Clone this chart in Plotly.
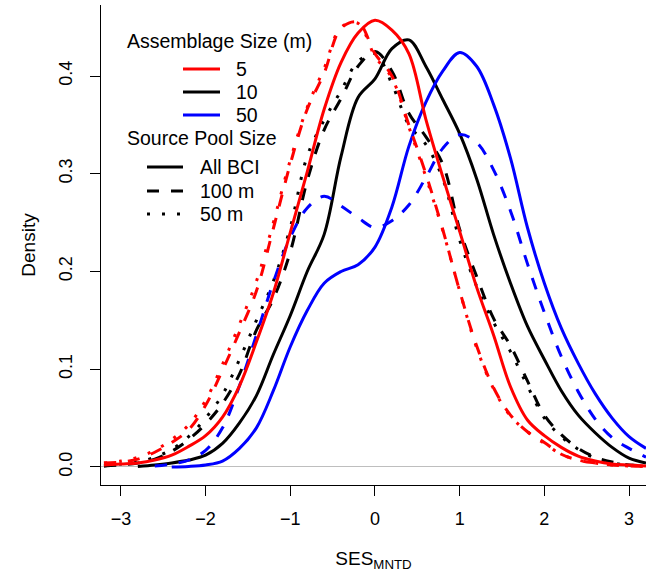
import plotly.graph_objects as go

# SES_MNTD grid
x_grid = [-3.2, -3.0, -2.8, -2.6, -2.4, -2.2, -2.0, -1.8, -1.6, -1.4, -1.2, -1.0, -0.8, -0.6, -0.4, -0.2,
          0.0, 0.2, 0.4, 0.6, 0.8, 1.0, 1.2, 1.4, 1.6, 1.8, 2.0, 2.2, 2.4, 2.6, 2.8, 3.0, 3.2]

# Assemblage 5 m
red_allbci = [0.002, 0.003, 0.004, 0.007, 0.012, 0.021, 0.032, 0.051, 0.083, 0.128, 0.178, 0.240, 0.302, 0.366,
              0.414, 0.444, 0.457, 0.447, 0.423, 0.356, 0.297, 0.241, 0.184, 0.135, 0.082, 0.048, 0.032, 0.020,
              0.011, 0.006, 0.003, 0.002, 0.001]
red_100m = [0.004, 0.005, 0.008, 0.015, 0.025, 0.038, 0.063, 0.099, 0.138, 0.180, 0.244, 0.310, 0.366, 0.403,
            0.449, 0.455, 0.423, 0.400, 0.350, 0.300, 0.243, 0.180, 0.124, 0.081, 0.053, 0.036, 0.025, 0.013,
            0.007, 0.004, 0.002, 0.001, 0.0005]
red_50m = [0.004, 0.006, 0.010, 0.017, 0.028, 0.043, 0.068, 0.105, 0.146, 0.190, 0.250, 0.314, 0.368, 0.408,
           0.450, 0.454, 0.420, 0.398, 0.348, 0.297, 0.242, 0.180, 0.122, 0.080, 0.052, 0.036, 0.024, 0.013,
           0.007, 0.004, 0.002, 0.001, 0.0005]

# Assemblage 10 m
black_allbci = [None, None, 0.0005, 0.002, 0.004, 0.007, 0.012, 0.024, 0.045, 0.073, 0.115, 0.155, 0.200, 0.238,
                0.318, 0.378, 0.397, 0.428, 0.437, 0.410, 0.376, 0.341, 0.295, 0.238, 0.188, 0.144, 0.110, 0.078,
                0.053, 0.035, 0.020, 0.009, 0.004]
black_100m = [0.001, 0.002, 0.004, 0.008, 0.016, 0.028, 0.044, 0.065, 0.095, 0.140, 0.172, 0.220, 0.293, 0.345,
              0.377, 0.410, 0.425, 0.405, 0.362, 0.338, 0.310, 0.243, 0.195, 0.152, 0.124, 0.088, 0.053, 0.033,
              0.019, 0.010, 0.005, 0.002, 0.001]
black_50m = [0.001, 0.003, 0.005, 0.010, 0.018, 0.031, 0.050, 0.074, 0.110, 0.150, 0.190, 0.245, 0.318, 0.355,
             0.385, 0.415, 0.423, 0.392, 0.350, 0.330, 0.295, 0.232, 0.185, 0.148, 0.118, 0.083, 0.050, 0.031,
             0.018, 0.009, 0.004, 0.002, 0.001]

# Assemblage 50 m
blue_allbci = [None, None, None, None, 0.0, 0.0005, 0.002, 0.006, 0.019, 0.040, 0.078, 0.123, 0.160, 0.188,
               0.200, 0.207, 0.225, 0.266, 0.328, 0.373, 0.405, 0.424, 0.410, 0.371, 0.316, 0.245, 0.188, 0.142,
               0.106, 0.075, 0.050, 0.031, 0.019]
blue_100m = [None, None, None, 0.001, 0.003, 0.007, 0.017, 0.040, 0.083, 0.135, 0.189, 0.235, 0.265, 0.277,
             0.267, 0.255, 0.245, 0.252, 0.268, 0.296, 0.326, 0.340, 0.332, 0.304, 0.262, 0.208, 0.158, 0.113,
             0.077, 0.049, 0.030, 0.019, 0.010]

legend_size_title = "Assemblage Size (m)"
size_names = ["5", "10", "50"]
size_colors = ["#FF0000", "#000000", "#0000FF"]
legend_pool_title = "Source Pool Size"
pool_names = ["All BCI", "100 m", "50 m"]
pool_dashes = ["solid", "12px,12px", "3px,12px"]

x_ticks = [-3, -2, -1, 0, 1, 2, 3]
y_ticks = [0.0, 0.1, 0.2, 0.3, 0.4]
y_ticktext = ["0.0", "0.1", "0.2", "0.3", "0.4"]

curves = [
    (black_allbci, 1, 0), (black_100m, 1, 1), (black_50m, 1, 2),
    (blue_allbci, 2, 0), (blue_100m, 2, 1),
    (red_allbci, 0, 0), (red_100m, 0, 1), (red_50m, 0, 2),
]

FONT = "Liberation Sans, Arial, Helvetica, sans-serif"
LEG_FONT = 19.5

# plot area in pixels (for converting legend layout positions to paper coords)
L, R, T, B = 101, 646, 5, 485
def px(x):
    return (x - L) / (R - L)
def py(y):
    return (B - y) / (B - T)

fig = go.Figure()
for vals, ci, pi in curves:
    fig.add_trace(go.Scatter(
        x=x_grid, y=vals, mode="lines", line_shape="spline",
        line=dict(color=size_colors[ci], width=3, dash=pool_dashes[pi]),
        showlegend=False, hoverinfo="skip"))

annotations = [
    dict(text=legend_size_title, x=px(125), y=py(41), xref="paper", yref="paper",
         xanchor="left", yanchor="middle", showarrow=False, font=dict(size=LEG_FONT)),
    dict(text=legend_pool_title, x=px(125), y=py(138), xref="paper", yref="paper",
         xanchor="left", yanchor="middle", showarrow=False, font=dict(size=LEG_FONT)),
]
shapes = []
size_rows = [69, 92, 115]
for name, col, row in zip(size_names, size_colors, size_rows):
    shapes.append(dict(type="line", xref="paper", yref="paper", x0=px(183), x1=px(220),
                       y0=py(row), y1=py(row), line=dict(color=col, width=3)))
    annotations.append(dict(text=name, x=px(234), y=py(row), xref="paper", yref="paper",
                            xanchor="left", yanchor="middle", showarrow=False, font=dict(size=LEG_FONT)))
pool_rows = [167, 191, 214]
for name, dash, row in zip(pool_names, pool_dashes, pool_rows):
    shapes.append(dict(type="line", xref="paper", yref="paper", x0=px(147), x1=px(183),
                       y0=py(row), y1=py(row), line=dict(color="black", width=3, dash=dash)))
    annotations.append(dict(text=name, x=px(198), y=py(row), xref="paper", yref="paper",
                            xanchor="left", yanchor="middle", showarrow=False, font=dict(size=LEG_FONT)))

fig.update_layout(
    width=646, height=580,
    margin=dict(l=L, r=646 - R, t=T, b=580 - B),
    plot_bgcolor="white", paper_bgcolor="white",
    font=dict(family=FONT, size=19, color="black"),
    showlegend=False,
    annotations=annotations,
    shapes=shapes,
)
fig.update_xaxes(
    range=[-3.235, 3.2], tickvals=x_ticks, ticks="outside", ticklen=10, tickwidth=1, tickcolor="black",
    showline=True, linecolor="black", linewidth=1, showgrid=False, zeroline=False,
    tickfont=dict(size=18), ticklabelstandoff=7, automargin=False,
    title=dict(text="SES<sub>MNTD</sub>", font=dict(size=19), standoff=24),
)
fig.update_yaxes(
    range=[-0.0185, 0.4727], tickvals=y_ticks, ticktext=y_ticktext, tickangle=-90,
    ticks="outside", ticklen=10, tickwidth=1, tickcolor="black",
    showline=True, linecolor="black", linewidth=1, showgrid=False,
    zeroline=True, zerolinecolor="#BEBEBE", zerolinewidth=1,
    tickfont=dict(size=18), ticklabelstandoff=11, automargin=False,
    title=dict(text="Density", font=dict(size=19), standoff=15),
)
fig.write_html("out.html", config={"displayModeBar": False},
               post_script="document.body.style.margin='0';document.body.style.overflow='hidden';")
